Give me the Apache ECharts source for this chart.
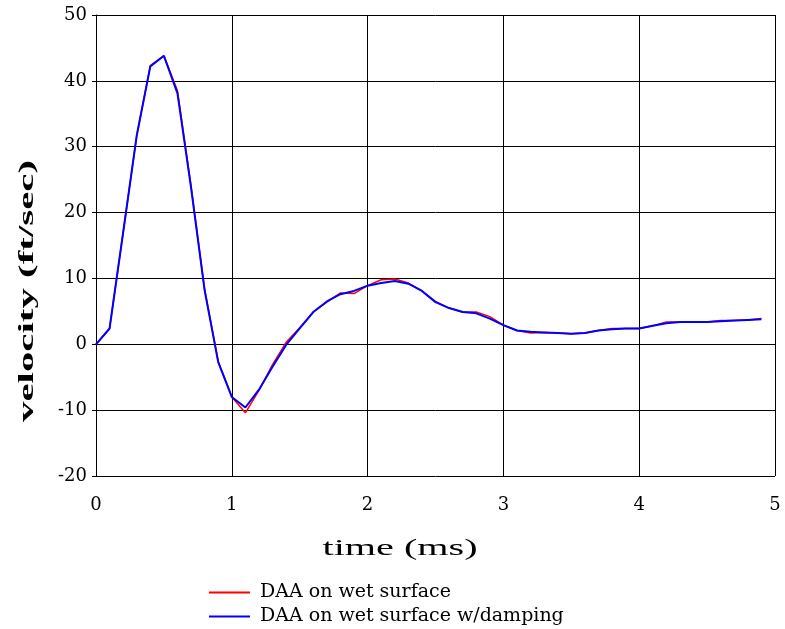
<!DOCTYPE html>
<html>
<head>
<meta charset="utf-8">
<script src="https://cdn.jsdelivr.net/npm/echarts@6/dist/echarts.min.js"></script>
<style>
  html, body { margin: 0; padding: 0; background: #fff; }
  #chart { width: 785px; height: 629px; }
</style>
</head>
<body>
<div id="chart"></div>
<script>
// time (ms), sampled every 0.1 ms
var times = [0, 0.1, 0.2, 0.3, 0.4, 0.5, 0.6, 0.7, 0.8, 0.9,
  1.0, 1.1, 1.2, 1.3, 1.4, 1.5, 1.6, 1.7, 1.8, 1.9,
  2.0, 2.1, 2.2, 2.3, 2.4, 2.5, 2.6, 2.7, 2.8, 2.9,
  3.0, 3.1, 3.2, 3.3, 3.4, 3.5, 3.6, 3.7, 3.8, 3.9,
  4.0, 4.1, 4.2, 4.3, 4.4, 4.5, 4.6, 4.7, 4.8, 4.9];

// velocity (ft/sec)
var wetSurface = [0, 2.4, 17, 31.7, 42.3, 43.8, 38.5, 24, 8.3, -2.6,
  -8.0, -10.4, -7.0, -3.1, 0.3, 2.5, 4.9, 6.4, 7.8, 7.7,
  8.9, 9.8, 9.9, 9.3, 8.1, 6.5, 5.5, 4.9, 4.9, 4.2,
  2.9, 2.1, 1.7, 1.8, 1.7, 1.6, 1.7, 2.1, 2.4, 2.4,
  2.4, 2.8, 3.4, 3.4, 3.4, 3.4, 3.6, 3.6, 3.7, 3.9];

var wetSurfaceDamping = [0, 2.4, 17, 31.7, 42.2, 43.8, 38.1, 23.8, 8.2, -2.7,
  -8.0, -9.6, -6.9, -3.4, -0.1, 2.4, 4.9, 6.5, 7.6, 8.1,
  8.9, 9.3, 9.6, 9.2, 8.1, 6.4, 5.5, 4.9, 4.7, 3.9,
  2.9, 2.1, 1.9, 1.8, 1.7, 1.6, 1.7, 2.1, 2.3, 2.4,
  2.4, 2.8, 3.2, 3.4, 3.4, 3.4, 3.5, 3.6, 3.7, 3.8];

var seriesNames = ['DAA on wet surface', 'DAA on wet surface w/damping'];
var xTitle = 'time (ms)';
var yTitle = 'velocity (ft/sec)';

function pairs(xs, ys) {
  return xs.map(function (x, i) { return [x, ys[i]]; });
}

// the original titles are set in a wide face, stretch Times to the same length
var ctx = document.createElement('canvas').getContext('2d');
function stretch(font, text, target) {
  ctx.font = font;
  return target / ctx.measureText(text).width;
}
var xTitleFont = '24px "Liberation Serif"';
var yTitleFont = 'bold 22px "Liberation Serif"';

var wide = 'DejaVu Serif';

var myChart = echarts.init(document.getElementById('chart'));
var option = {
  animation: false,
  grid: {
    left: 96,
    right: 10,
    top: 15,
    bottom: 153,
    containLabel: false
  },
  graphic: [{
    type: 'text',
    x: 400,
    y: 549,
    scaleX: stretch(xTitleFont, xTitle, 155),
    style: {
      text: xTitle,
      font: xTitleFont,
      fill: '#000',
      align: 'center',
      verticalAlign: 'middle'
    }
  }, {
    type: 'text',
    x: 27,
    y: 291,
    rotation: Math.PI / 2,
    scaleX: stretch(yTitleFont, yTitle, 262),
    style: {
      text: yTitle,
      font: yTitleFont,
      fill: '#000',
      align: 'center',
      verticalAlign: 'middle'
    }
  }],
  legend: {
    orient: 'vertical',
    left: 209,
    top: 583,
    height: 46,
    padding: 0,
    itemWidth: 41,
    itemHeight: 2,
    itemGap: 5,
    icon: 'rect',
    textStyle: { fontFamily: wide, fontSize: 19, color: '#000', padding: [0, 0, 0, 5] },
    data: seriesNames
  },
  xAxis: {
    type: 'value',
    min: 0,
    max: 5,
    interval: 1,
    axisLine: { show: true, lineStyle: { color: '#000', width: 1 } },
    axisTick: { show: true, length: 4, lineStyle: { color: '#000' } },
    axisLabel: { fontFamily: wide, fontSize: 18, color: '#000', margin: 20 },
    splitLine: { show: true, lineStyle: { color: '#000', width: 1 } }
  },
  yAxis: {
    type: 'value',
    min: -20,
    max: 50,
    interval: 10,
    axisLine: { show: true, onZero: false, lineStyle: { color: '#000', width: 1 } },
    axisTick: { show: true, length: 4, lineStyle: { color: '#000' } },
    axisLabel: { fontFamily: wide, fontSize: 18, color: '#000', margin: 9 },
    splitLine: { show: true, lineStyle: { color: '#000', width: 1 } }
  },
  series: [{
    name: seriesNames[0],
    type: 'line',
    data: pairs(times, wetSurface),
    showSymbol: false,
    symbol: 'none',
    lineStyle: { color: '#ff0000', width: 1.5 },
    itemStyle: { color: '#ff0000' },
    z: 2
  }, {
    name: seriesNames[1],
    type: 'line',
    data: pairs(times, wetSurfaceDamping),
    showSymbol: false,
    symbol: 'none',
    lineStyle: { color: '#0000ff', width: 2 },
    itemStyle: { color: '#0000ff' },
    z: 3
  }]
};
myChart.setOption(option);
window.addEventListener('resize', function () {
  myChart.resize();
});
</script>
</body>
</html>
